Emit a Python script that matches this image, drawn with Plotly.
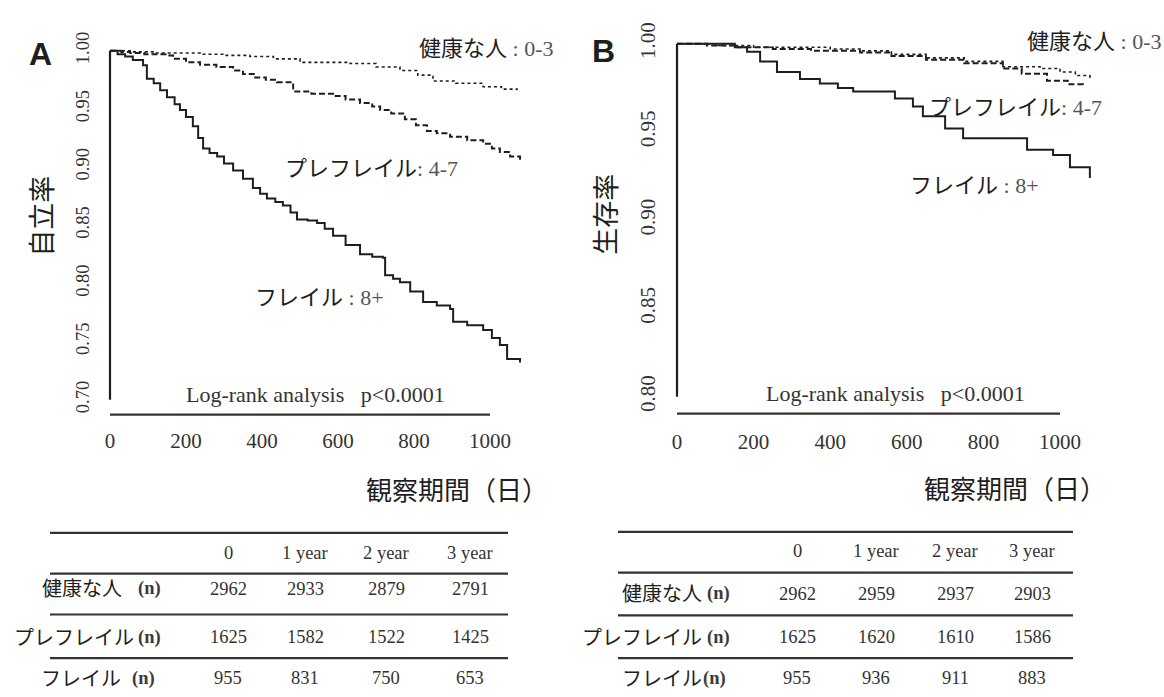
import plotly.graph_objects as go

W, H = 1164, 697

# ---------------- data ----------------
x_ticks = [0, 200, 400, 600, 800, 1000]
a_y_ticks = [0.70, 0.75, 0.80, 0.85, 0.90, 0.95, 1.00]
b_y_ticks = [0.80, 0.85, 0.90, 0.95, 1.00]

# Panel A (自立率)
a_healthy_t = [0, 60, 120, 180, 237, 300, 368, 430, 500, 570, 632, 700, 763, 810, 850, 910, 982, 1030, 1071]
a_healthy_s = [1.0, 0.999, 0.998, 0.998, 0.997, 0.996, 0.995, 0.993, 0.990, 0.990, 0.989, 0.986, 0.983, 0.979, 0.974, 0.972, 0.969, 0.967, 0.966]
a_pre_t = [0, 30, 53, 90, 150, 166, 200, 237, 280, 324, 350, 382, 410, 439, 482, 530, 587, 620, 658, 690,
           711, 740, 776, 805, 834, 860, 895, 940, 982, 1005, 1026, 1053, 1079]
a_pre_s = [1.0, 0.999, 0.998, 0.997, 0.996, 0.993, 0.990, 0.988, 0.986, 0.983, 0.980, 0.977, 0.975, 0.973, 0.965, 0.963, 0.961, 0.958, 0.955, 0.952,
           0.949, 0.946, 0.941, 0.936, 0.931, 0.929, 0.926, 0.923, 0.920, 0.916, 0.913, 0.909, 0.906]
a_frail_t = [0, 20, 40, 60, 87, 97, 115, 132, 150, 170, 184, 200, 218, 232, 245, 262, 282, 300, 324, 350,
             376, 395, 413, 435, 455, 475, 492, 520, 545, 565, 587, 620, 658, 690, 718, 724, 745, 763, 790, 824,
             860, 895, 903, 940, 982, 1005, 1026, 1045, 1079]
a_frail_s = [1.0, 0.997, 0.995, 0.992, 0.9875, 0.976, 0.972, 0.966, 0.960, 0.954, 0.949, 0.943, 0.935, 0.925, 0.916, 0.912, 0.909, 0.903, 0.897, 0.890,
             0.882, 0.877, 0.873, 0.870, 0.867, 0.861, 0.855, 0.854, 0.852, 0.847, 0.841, 0.833, 0.825, 0.823, 0.822, 0.807, 0.804, 0.801, 0.793, 0.784,
             0.781, 0.778, 0.767, 0.764, 0.760, 0.753, 0.747, 0.735, 0.732]

# Panel B (生存率)
b_healthy_t = [0, 100, 200, 300, 400, 478, 560, 650, 750, 851, 948, 1000, 1040, 1078]
b_healthy_s = [1.0, 0.999, 0.998, 0.998, 0.997, 0.996, 0.994, 0.992, 0.990, 0.987, 0.986, 0.984, 0.982, 0.980]
b_pre_t = [0, 78, 150, 250, 350, 478, 560, 650, 750, 851, 900, 966, 1020, 1060]
b_pre_s = [1.0, 0.999, 0.998, 0.997, 0.996, 0.995, 0.993, 0.991, 0.989, 0.986, 0.983, 0.979, 0.977, 0.976]
b_frail_t = [0, 120, 151, 183, 217, 261, 321, 373, 420, 460, 530, 569, 616, 642, 700, 747, 862, 914, 982, 1026, 1078]
b_frail_s = [1.0, 1.0, 0.998, 0.9955, 0.990, 0.984, 0.980, 0.9775, 0.975, 0.973, 0.973, 0.969, 0.9645, 0.959, 0.952, 0.9465, 0.9465, 0.940, 0.937, 0.930, 0.924]

# Number-at-risk tables
col_labels = ["0", "1 year", "2 year", "3 year"]
row_labels = ["健康な人", "プレフレイル", "フレイル"]
a_n_healthy = [2962, 2933, 2879, 2791]
a_n_pre = [1625, 1582, 1522, 1425]
a_n_frail = [955, 831, 750, 653]
b_n_healthy = [2962, 2959, 2937, 2903]
b_n_pre = [1625, 1620, 1610, 1586]
b_n_frail = [955, 936, 911, 883]

# ---------------- style / layout ----------------
JP = "Noto Sans CJK JP"
SERIF = "Liberation Serif"
INK = "#1e1e1e"
GREY = "#333333"


def px(x):
    return x / W


def py(y):
    return 1 - y / H


fig = go.Figure()

# geometry: (origin px, px per day) and (px of y=1.0, px per unit)
A = dict(x0=110, kx=0.38, y1=47, ky=1170, xr=(-15, 1184), yr=(0.685, 1.02), base=0.6872, ylo=0.70)
B = dict(x0=677, kx=0.383, y1=40, ky=1775, xr=(-15, 1235), yr=(0.788, 1.01), base=0.7904, ylo=0.80)


def dom(g):
    xd = [px(g["x0"] + g["xr"][0] * g["kx"]), px(g["x0"] + g["xr"][1] * g["kx"])]
    ytop = g["y1"] - (g["yr"][1] - 1) * g["ky"]
    ybot = g["y1"] + (1 - g["yr"][0]) * g["ky"]
    yd = [py(ybot), py(ytop)]
    return xd, yd


styles = [("dot", 1.6), ("6px,3px", 2.0), ("solid", 2.0)]
panels = [
    ("x", "y", [(a_healthy_t, a_healthy_s), (a_pre_t, a_pre_s), (a_frail_t, a_frail_s)]),
    ("x2", "y2", [(b_healthy_t, b_healthy_s), (b_pre_t, b_pre_s), (b_frail_t, b_frail_s)]),
]
for xa, ya, curves in panels:
    for (t, s), (dash, w) in zip(curves, styles):
        fig.add_trace(go.Scatter(x=t, y=s, mode="lines", line=dict(color=INK, width=w, dash=dash, shape="hv"),
                                 xaxis=xa, yaxis=ya, showlegend=False, hoverinfo="skip"))

axfont_x = dict(family=SERIF, size=21, color=GREY)
for i, (g, yt, ysize) in enumerate([(A, a_y_ticks, 18.5), (B, b_y_ticks, 21)]):
    xd, yd = dom(g)
    sfx = "" if i == 0 else "2"
    fig.update_layout(**{
        "xaxis" + sfx: dict(domain=xd, range=list(g["xr"]), anchor="y" + sfx, tickvals=x_ticks,
                            showgrid=False, zeroline=False, showline=False, ticks="outside", ticklen=5,
                            tickcolor="rgba(0,0,0,0)", tickfont=axfont_x),
        "yaxis" + sfx: dict(domain=yd, range=list(g["yr"]), anchor="x" + sfx, tickvals=yt, tickformat=".2f",
                            showgrid=False, zeroline=False, showline=False, ticks="outside", ticklen=7,
                            tickcolor="rgba(0,0,0,0)", tickangle=-90,
                            tickfont=dict(family=SERIF, size=ysize, color=GREY)),
    })
    xr, yr = "x" + sfx, "y" + sfx
    # axis lines (R style, spanning only tick range)
    fig.add_shape(type="line", xref=xr, yref=yr, x0=0, x1=0, y0=g["ylo"], y1=1.0,
                  line=dict(color=INK, width=2.2))
    fig.add_shape(type="line", xref=xr, yref=yr, x0=0, x1=1000, y0=g["base"], y1=g["base"],
                  line=dict(color=GREY, width=2.4))

anns = []


def ann(text, x, y, size, family=JP, color=INK, xanchor="center", angle=0):
    f = dict(family=family, size=size, color=color)
    anns.append(dict(text=text, x=px(x), y=py(y), xref="paper", yref="paper", showarrow=False,
                     xanchor=xanchor, yanchor="middle", font=f, textangle=angle))


def mix(jp, tail):
    return f"{jp}<span style='font-family:{SERIF}; color:#555'>{tail}</span>"


# panel letters
ann("<b>A</b>", 40, 50, 32, family="Liberation Sans")
ann("<b>B</b>", 603, 47, 32, family="Liberation Sans")
# y titles
ann("自立率", 41, 214, 27, angle=-90)
ann("生存率", 605, 212, 27, angle=-90)
# x titles
ann("観察期間（日）", 457, 487, 26)
ann("観察期間（日）", 1015, 486, 26)
# curve labels
ann(mix("健康な人", " : 0-3"), 555, 42, 22, xanchor="right")
ann(mix("プレフレイル", ": 4-7"), 283, 163, 22, xanchor="left")
ann(mix("フレイル", " : 8+"), 253, 293, 22, xanchor="left")
ann(mix("健康な人", " : 0-3"), 1163, 35, 22, xanchor="right")
ann(mix("プレフレイル", ": 4-7"), 927, 102, 22, xanchor="left")
ann(mix("フレイル", " : 8+"), 908, 180, 22, xanchor="left")
# log-rank
lr = "Log-rank analysis\u00a0\u00a0\u00a0p<0.0001"
ann(lr, 315, 393, 22, family=SERIF, color=GREY)
ann(lr, 895, 392, 22, family=SERIF, color=GREY)

# tables
tables = [
    dict(x0=50, x1=508, lines=[532, 573, 614, 658], cols=[228, 305, 386, 470], hy=552, rows=[588, 637, 678],
         n_r=[163, 163, 157], lab_r=[124, 136, 123], data=[a_n_healthy, a_n_pre, a_n_frail]),
    dict(x0=618, x1=1073, lines=[531, 572, 615, 658], cols=[797, 876, 955, 1032], hy=550, rows=[593, 637, 678],
         n_r=[732, 732, 728], lab_r=[704, 704, 704], data=[b_n_healthy, b_n_pre, b_n_frail]),
]
for tb in tables:
    for ly in tb["lines"]:
        fig.add_shape(type="line", xref="paper", yref="paper", x0=px(tb["x0"]), x1=px(tb["x1"]),
                      y0=py(ly), y1=py(ly), line=dict(color=GREY, width=2.2))
    for c, cx in zip(col_labels, tb["cols"]):
        ann(c, cx, tb["hy"], 18.5, family=SERIF, color=GREY)
    for r, ry, vals, nr, lr_ in zip(row_labels, tb["rows"], tb["data"], tb["n_r"], tb["lab_r"]):
        ann(r, lr_, ry - 1, 20, xanchor="right")
        ann("<b>(n)</b>", nr, ry, 18.5, family=SERIF, color="#3a3a3a", xanchor="right")
        for v, cx in zip(vals, tb["cols"]):
            ann(str(v), cx, ry, 18.5, family=SERIF, color=GREY)

fig.update_layout(width=W, height=H, margin=dict(l=0, r=0, t=0, b=0), paper_bgcolor="white",
                  plot_bgcolor="white", annotations=anns, showlegend=False)

fig.write_html("out.html")
